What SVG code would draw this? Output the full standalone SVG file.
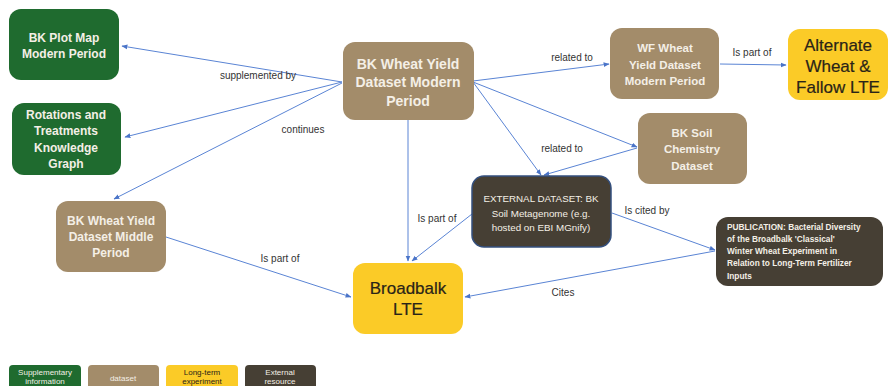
<svg xmlns="http://www.w3.org/2000/svg" width="890" height="386" viewBox="0 0 890 386">
<style>
text{font-family:"Liberation Sans",Arial,sans-serif;text-anchor:middle}
.g{fill:#1f6b2f}.b{fill:#a38c6a}.y{fill:#fbcb27}.d{fill:#463f34}
.lt{fill:#f4efe6;font-weight:bold;font-size:12px}
.st{fill:#f4efe6;font-weight:bold;font-size:11.5px}
.big{fill:#2a2418;font-size:17px;stroke:#2a2418;stroke-width:0.2}
.lbl{fill:#333;font-size:10px}
.pub{fill:#f4efe6;font-size:8.3px;font-weight:bold;text-anchor:start}
.e{stroke:#5a84d4;stroke-width:1;fill:none;marker-end:url(#ah)}
.lg{font-size:8px}
</style>
<defs>
<marker id="ah" viewBox="0 0 10 10" refX="9" refY="5" markerWidth="6" markerHeight="6" orient="auto" markerUnits="userSpaceOnUse">
<path d="M0,1 L10,5 L0,9 z" fill="#4a74c8"/>
</marker>
</defs>
<rect width="890" height="386" fill="#ffffff"/>

<g id="connectors">
<line class="e" x1="342" y1="82" x2="122" y2="46"/>
<line class="e" x1="342" y1="82" x2="125" y2="137"/>
<line class="e" x1="342" y1="83" x2="114" y2="199"/>
<line class="e" x1="473" y1="81" x2="609" y2="64"/>
<line class="e" x1="473" y1="82" x2="637" y2="147"/>
<line class="e" x1="473" y1="82" x2="541" y2="175"/>
<line class="e" x1="637" y1="148" x2="544" y2="175"/>
<line class="e" x1="720" y1="64" x2="786" y2="65"/>
<line class="e" x1="408" y1="120" x2="408" y2="261"/>
<line class="e" x1="472" y1="214" x2="412" y2="261"/>
<line class="e" x1="612" y1="213" x2="715" y2="250"/>
<line class="e" x1="715" y1="251" x2="465" y2="297"/>
<line class="e" x1="166" y1="237" x2="351" y2="297"/>
<text class="lbl" x="258" y="79">supplemented by</text>
<text class="lbl" x="303" y="133">continues</text>
<text class="lbl" x="572" y="61">related to</text>
<text class="lbl" x="562" y="152">related to</text>
<text class="lbl" x="752" y="56">Is part of</text>
<text class="lbl" x="437" y="222">Is part of</text>
<text class="lbl" x="280" y="262">Is part of</text>
<text class="lbl" x="647" y="214">Is cited by</text>
<text class="lbl" x="563" y="296">Cites</text>
</g>

<g id="plotmap">
<rect class="g" x="9" y="9" width="110" height="71" rx="12"/>
<text class="lt" x="64" y="42">BK Plot Map</text>
<text class="lt" x="64" y="58">Modern Period</text>
</g>

<g id="rotations">
<rect class="g" x="12" y="103" width="109" height="72" rx="12"/>
<text class="lt" x="66" y="119">Rotations and</text>
<text class="lt" x="66" y="135">Treatments</text>
<text class="lt" x="66" y="152">Knowledge</text>
<text class="lt" x="66" y="168">Graph</text>
</g>

<g id="modern">
<rect class="b" x="343" y="42" width="131" height="78" rx="12"/>
<text class="lt" x="408" y="69" style="font-size:14px">BK Wheat Yield</text>
<text class="lt" x="408" y="87" style="font-size:14px">Dataset Modern</text>
<text class="lt" x="408" y="106" style="font-size:14px">Period</text>
</g>

<g id="wf">
<rect class="b" x="610" y="28" width="109" height="71" rx="12"/>
<text class="st" x="665" y="52">WF Wheat</text>
<text class="st" x="665" y="69">Yield Dataset</text>
<text class="st" x="665" y="85">Modern Period</text>
</g>

<g id="alternate">
<rect class="y" x="788" y="29" width="100" height="71" rx="12"/>
<text class="big" x="838" y="51">Alternate</text>
<text class="big" x="838" y="72">Wheat &amp;</text>
<text class="big" x="838" y="93">Fallow LTE</text>
</g>

<g id="soil">
<rect class="b" x="638" y="113" width="109" height="71" rx="12"/>
<text class="st" x="692" y="137">BK Soil</text>
<text class="st" x="692" y="153">Chemistry</text>
<text class="st" x="692" y="170">Dataset</text>
</g>

<g id="external">
<rect class="d" x="472" y="176" width="139" height="71" rx="12" stroke="#34507f" stroke-width="1.5"/>
<text fill="#f4efe6" font-size="9.8" x="541" y="202">EXTERNAL DATASET: BK</text>
<text fill="#f4efe6" font-size="9.8" x="541" y="217">Soil Metagenome (e.g.</text>
<text fill="#f4efe6" font-size="9.8" x="541" y="231">hosted on EBI MGnify)</text>
</g>

<g id="publication">
<rect class="d" x="716" y="217" width="167" height="69" rx="12"/>
<text class="pub" x="727" y="230">PUBLICATION: Bacterial Diversity</text>
<text class="pub" x="727" y="242">of the Broadbalk 'Classical'</text>
<text class="pub" x="727" y="254">Winter Wheat Experiment in</text>
<text class="pub" x="727" y="266">Relation to Long-Term Fertilizer</text>
<text class="pub" x="727" y="279">Inputs</text>
</g>

<g id="middle">
<rect class="b" x="56" y="201" width="110" height="71" rx="12"/>
<text class="lt" x="111" y="225">BK Wheat Yield</text>
<text class="lt" x="111" y="241">Dataset Middle</text>
<text class="lt" x="111" y="257">Period</text>
</g>

<g id="broadbalk">
<rect class="y" x="353" y="263" width="110" height="71" rx="12"/>
<text class="big" x="408" y="294">Broadbalk</text>
<text class="big" x="408" y="315">LTE</text>
</g>

<g id="legend">
<rect class="g" x="9" y="365" width="72" height="30" rx="4"/>
<rect class="b" x="88" y="365" width="71" height="30" rx="4"/>
<rect class="y" x="166" y="365" width="72" height="30" rx="4"/>
<rect class="d" x="245" y="365" width="71" height="30" rx="4"/>
<text class="lg" fill="#f4efe6" x="45" y="375">Supplementary</text>
<text class="lg" fill="#f4efe6" x="45" y="384">information</text>
<text class="lg" fill="#f4efe6" x="123" y="381">dataset</text>
<text class="lg" fill="#2a2418" x="202" y="375">Long-term</text>
<text class="lg" fill="#2a2418" x="202" y="384">experiment</text>
<text class="lg" fill="#f4efe6" x="280" y="375">External</text>
<text class="lg" fill="#f4efe6" x="280" y="384">resource</text>
</g>
</svg>
